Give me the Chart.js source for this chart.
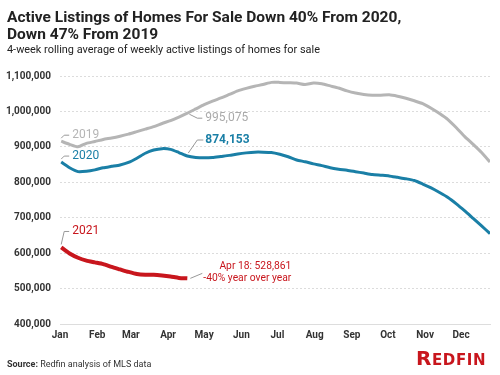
<!DOCTYPE html>
<html>
<head>
<meta charset="utf-8">
<script src="https://cdn.jsdelivr.net/npm/chart.js@4"></script>
<style>
  body { margin: 0; background: #fff; font-family: Roboto, sans-serif; }
  #wrap { position: relative; width: 500px; height: 375px; }
  #myChart { position: absolute; left: 0; top: 0; }
  .title { position: absolute; left: 7px; top: 9px; font-size: 15.5px; font-weight: bold; color: #222; line-height: 16.5px; }
  .sub { position: absolute; left: 7px; top: 43px; font-size: 10.9px; color: #222; }
  .source { position: absolute; left: 7px; top: 359px; font-size: 9px; color: #333; }
  .logo { position: absolute; left: 416px; top: 346px; color: #c8161d; font-family: "DejaVu Sans", sans-serif; font-weight: bold; font-size: 15px; letter-spacing: 0.6px; }
  .logo span { font-size: 20px; }
</style>
</head>
<body>
<div id="wrap">
  <canvas id="myChart" width="500" height="375"></canvas>
  <div class="title">Active Listings of Homes For Sale Down 40% From 2020,<br>Down 47% From 2019</div>
  <div class="sub">4-week rolling average of weekly active listings of homes for sale</div>
  <div class="source"><b>Source:</b> Redfin analysis of MLS data</div>
  <div class="logo"><span>R</span>EDFIN</div>
</div>
<script>
// weekly values, Jan -> Dec
const listings2019 = [916000, 907000, 900000, 910000, 915000, 921000, 925000, 930000, 936000, 943000,
    950000, 957000, 966000, 974000, 984000, 995075, 1007000, 1019000, 1029000, 1038000,
    1048000, 1058000, 1065000, 1071000, 1076000, 1082000, 1082000, 1081000, 1080000, 1076000,
    1080000, 1078000, 1072000, 1066000, 1058000, 1052000, 1048000, 1046000, 1046000, 1047000,
    1043000, 1037000, 1030000, 1022000, 1009000, 994000, 977000, 954000, 929000, 907000,
    884000, 857000];
const listings2020 = [857000, 841000, 830000, 831000, 835000, 841000, 845000, 849000, 856000, 868000,
    882000, 891000, 895000, 893000, 884000, 874153, 870000, 869000, 870000, 873000,
    876000, 880000, 883000, 885000, 885000, 884000, 879000, 872000, 863000, 858000,
    852000, 847000, 841000, 837000, 834000, 830000, 826000, 822000, 820000, 818000,
    814000, 810000, 805000, 795000, 784000, 771000, 757000, 739000, 719000, 698000,
    677000, 655000];
const listings2021 = [616000, 599000, 587000, 579000, 574000, 569000, 561000, 554000, 547000, 541000,
    539000, 539000, 537000, 534000, 530000, 528861];

const monthNames = ['Jan', 'Feb', 'Mar', 'Apr', 'May', 'Jun', 'Jul', 'Aug', 'Sep', 'Oct', 'Nov', 'Dec'];
const monthStartDays = [0, 31, 59, 90, 120, 151, 181, 212, 243, 273, 304, 334];
const yTicks = [400000, 500000, 600000, 700000, 800000, 900000, 1000000, 1100000];

const GRAY = '#b5b5b5';
const TEAL = '#1a7fa6';
const RED = '#c8161d';

function toPoints(values) {
    // one point per week, placed on day of year
    return values.map((v, i) => ({ x: 1 + 7 * i, y: v }));
}

const lastIdx = listings2021.length - 1;

// labels drawn next to the lines
const notesPlugin = {
    id: 'notes',
    afterDatasetsDraw(chart) {
        const c = chart.ctx;
        const pt = (ds, i) => chart.getDatasetMeta(ds).data[i];
        c.save();
        c.lineWidth = 1;
        c.strokeStyle = '#999';
        c.textBaseline = 'middle';

        function bracket(p, dy) {
            c.beginPath();
            c.moveTo(p.x, p.y - 3);
            c.lineTo(p.x + 3, p.y - dy);
            c.lineTo(p.x + 8, p.y - dy);
            c.stroke();
        }
        // year labels at start
        const years = [['2019', 0, GRAY, 6], ['2020', 1, TEAL, 6], ['2021', 2, RED, 16]];
        c.font = '12px Roboto, sans-serif';
        years.forEach(([txt, ds, col, dy]) => {
            const p = pt(ds, 0);
            bracket(p, dy);
            c.fillStyle = col;
            c.textAlign = 'left';
            c.fillText(txt, p.x + 11, p.y - dy);
        });

        // Apr 18 values
        let p = pt(0, 15);
        c.beginPath();
        c.moveTo(p.x + 2, p.y + 1);
        c.lineTo(p.x + 10, p.y + 5);
        c.lineTo(p.x + 15, p.y + 5);
        c.stroke();
        c.fillStyle = '#aaa';
        c.font = '12px Roboto, sans-serif';
        c.fillText(listings2019[15].toLocaleString('en-US'), p.x + 18, p.y + 5);

        p = pt(1, 15);
        c.beginPath();
        c.moveTo(p.x + 1, p.y - 3);
        c.lineTo(p.x + 10, p.y - 16);
        c.lineTo(p.x + 16, p.y - 16);
        c.stroke();
        c.fillStyle = TEAL;
        c.font = 'bold 12px Roboto, sans-serif';
        c.fillText(listings2020[15].toLocaleString('en-US'), p.x + 18, p.y - 16);

        p = pt(2, lastIdx);
        c.beginPath();
        c.moveTo(p.x + 3, p.y);
        c.lineTo(p.x + 15, p.y - 5);
        c.stroke();
        c.fillStyle = RED;
        c.font = '10.3px Roboto, sans-serif';
        c.textAlign = 'right';
        c.fillText('Apr 18: ' + listings2021[lastIdx].toLocaleString('en-US'), p.x + 104, p.y - 12);
        c.fillText('-40% year over year', p.x + 104, p.y);
        c.restore();
    }
};

document.addEventListener("DOMContentLoaded", function () {
    const ctx = document.getElementById('myChart').getContext('2d');

    new Chart(ctx, {
        type: 'line',
        data: {
            datasets: [
                { label: '2019', data: toPoints(listings2019), borderColor: GRAY, borderWidth: 3 },
                { label: '2020', data: toPoints(listings2020), borderColor: TEAL, borderWidth: 3 },
                { label: '2021', data: toPoints(listings2021), borderColor: RED, borderWidth: 4 },
            ],
        },
        options: {
            responsive: false,
            animation: false,
            layout: { padding: { top: 76, right: 10, bottom: 0, left: 0 } },
            elements: { point: { radius: 0 }, line: { tension: 0.2, borderCapStyle: 'butt' } },
            plugins: { legend: { display: false }, tooltip: { enabled: false } },
            scales: {
                x: {
                    type: 'linear',
                    min: 0,
                    max: 358,
                    afterBuildTicks: s => { s.ticks = monthStartDays.map(d => ({ value: d })); },
                    afterFit: s => { s.height = 51; },
                    ticks: {
                        autoSkip: false,
                        maxRotation: 0,
                        padding: 5,
                        color: '#333',
                        font: { family: 'Roboto', size: 10, weight: 'bold' },
                        callback: v => monthNames[monthStartDays.indexOf(v)],
                    },
                    grid: { display: false, drawTicks: false },
                    border: { display: true, color: '#ddd' },
                },
                y: {
                    min: 400000,
                    max: 1100000,
                    afterBuildTicks: s => { s.ticks = yTicks.map(v => ({ value: v })); },
                    afterFit: s => { s.width = 60; },
                    ticks: {
                        padding: 9,
                        color: '#333',
                        font: { family: 'Roboto', size: 10, weight: 'bold' },
                        callback: v => v.toLocaleString('en-US'),
                    },
                    grid: { color: '#dcdcdc', drawTicks: false },
                    border: { display: false, dash: [2, 2] },
                },
            },
        },
        plugins: [notesPlugin],
    });
});
</script>
</body>
</html>
